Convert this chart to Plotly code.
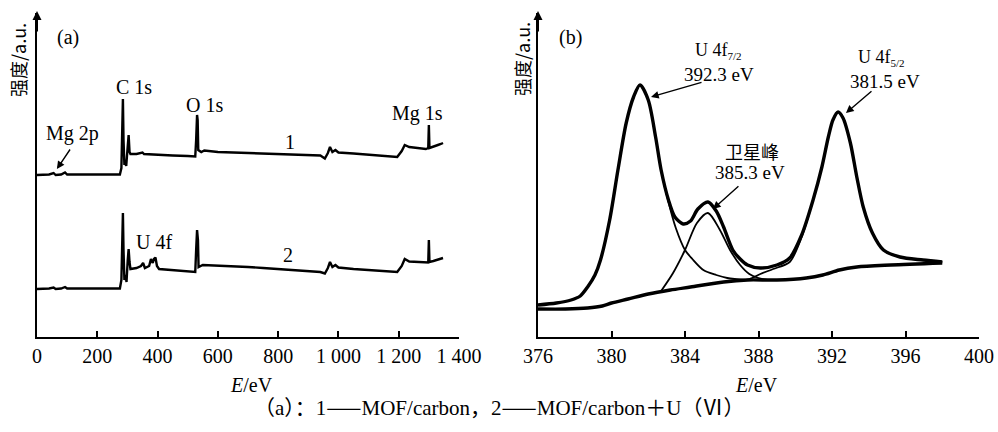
import plotly.graph_objects as go

# ---------------- (a) XPS survey spectra ----------------
survey_e = [0, 20, 40, 55, 62, 80, 93, 100, 150, 200, 250, 275, 280, 283, 285, 287, 290, 293, 296, 300,
            304, 307, 310, 330, 350, 355, 400, 450, 500, 525, 528, 531, 533, 535, 545, 555, 600, 650,
            700, 750, 800, 850, 900, 940, 955, 965, 972, 980, 990, 1000, 1050, 1100, 1150, 1195,
            1210, 1220, 1235, 1260, 1290, 1298, 1300, 1302, 1310, 1320, 1330, 1340, 1347]
survey_1 = [162, 162, 162.5, 164, 162, 162.5, 164.5, 162.5, 162.5, 162.5, 162.5, 162.5, 169, 217, 238, 197,
            172, 177, 171, 187, 202, 185, 183, 183, 184.5, 183, 182, 181.5, 181, 180.5, 197, 222, 217,
            187, 185, 186.5, 185, 184.5, 184, 183.5, 183.5, 182.5, 182, 181.5, 178.5, 184, 190, 185,
            187, 184.5, 183.5, 182.5, 181.5, 180, 186, 192, 190, 189, 188, 189, 212, 189, 190,
            191.5, 192, 193, 194]

survey2_e = [0, 20, 40, 55, 62, 80, 93, 100, 150, 200, 250, 275, 280, 283, 285, 287, 290, 294, 297, 301,
             304, 307, 310, 330, 345, 352, 358, 372, 378, 384, 388, 393, 398, 405, 450, 500, 525, 528,
             531, 534, 536, 550, 600, 650, 700, 750, 800, 850, 900, 940, 955, 965, 972, 980, 990, 1000,
             1050, 1100, 1150, 1195, 1210, 1220, 1235, 1260, 1290, 1298, 1300, 1302, 1315, 1330, 1347]
survey_2 = [48, 48, 48.5, 49.5, 48, 48.5, 50, 48.5, 48.5, 48.5, 48.5, 48.5, 57, 97, 124, 87, 57, 62, 55,
            77, 88, 75, 68, 69, 71, 74, 69, 71, 78, 74, 78, 79.5, 71, 68, 67, 65.5, 65, 87, 107, 97,
            70, 72, 71.5, 70.5, 70, 69, 68, 67, 66, 65, 63.5, 69, 75, 70, 72, 69.5, 68, 67, 66, 65,
            71, 78, 75.5, 75, 74, 74.5, 97, 75, 76, 77.5, 79]

# ---------------- (b) U 4f high-resolution fit ----------------
env_e = [376.0, 377.0, 377.8, 378.3, 378.7, 379.1, 379.4, 379.9, 380.35, 380.8, 381.2, 381.55, 382.0,
         382.4, 382.7, 383.1, 383.45, 383.9, 384.3, 384.7, 385.25, 385.7, 386.1, 386.6, 387.0, 387.4,
         388.1, 389.0, 389.7, 390.35, 390.97, 391.45, 391.8, 392.05, 392.33, 392.6, 393.0, 393.35,
         393.7, 394.2, 394.8, 395.7, 396.95, 398.0]
env_i = [32, 34, 37, 41, 50, 62, 77, 117, 167, 214, 240, 252, 237, 200, 167, 137, 120, 113, 116, 128,
         135, 126, 110, 87, 78, 72, 69, 72, 79, 102, 137, 170, 200, 217, 225, 219, 194, 160, 130, 104,
         87, 80, 77, 75]

bg_e = [376.0, 377.5, 378.7, 379.5, 380.0, 380.9, 382.0, 383.2, 384.3, 386.1, 387.4, 389.0, 390.6,
        391.5, 392.4, 393.35, 395.2, 398.0]
bg_i = [28, 28, 29, 31, 34, 38, 43, 47, 50, 55, 57, 57, 59, 62, 67, 70, 72, 74]

p1_e = [376.0, 377.0, 377.8, 378.3, 378.7, 379.1, 379.4, 379.9, 380.35, 380.8, 381.2, 381.55, 382.0,
        382.4, 382.7, 383.1, 383.5, 384.0, 384.4, 385.0, 385.7, 386.3, 387.4]
p1_i = [32, 34, 37, 41, 50, 62, 77, 117, 167, 214, 240, 252, 237, 200, 167, 135, 109, 87, 78, 67, 62,
        59, 57]

sat_e = [382.7, 383.35, 384.0, 384.65, 385.25, 385.9, 386.45, 387.0, 387.5, 388.0, 388.5]
sat_i = [46, 64, 87, 114, 124, 107, 87, 72, 63, 59, 57]

p3_e = [386.8, 387.5, 388.1, 388.8, 389.7, 390.35, 390.97, 391.45, 391.8, 392.05, 392.33, 392.6,
        393.0, 393.35, 393.7, 394.2, 394.8, 395.7, 396.95, 398.0]
p3_i = [56, 58, 63, 68, 75, 100, 137, 170, 200, 217, 225, 219, 194, 160, 130, 104, 87, 80, 77, 75]

W, H = 998, 432
SERIF = "Liberation Serif, Times New Roman, Noto Sans CJK SC, serif"
CJK = "Noto Sans CJK SC, Liberation Serif, serif"


def px(xp):
    return xp / W


def py(yp):
    return 1 - yp / H


fig = go.Figure()
line_a = dict(color="black", width=2.4)
fig.add_trace(go.Scatter(x=survey_e, y=survey_1, mode="lines", line=line_a, xaxis="x", yaxis="y"))
fig.add_trace(go.Scatter(x=survey2_e, y=survey_2, mode="lines", line=line_a, xaxis="x", yaxis="y"))

thick = dict(color="black", width=3.4, shape="spline", smoothing=0.8)
thin = dict(color="black", width=1.8, shape="spline", smoothing=0.8)
fig.add_trace(go.Scatter(x=p1_e, y=p1_i, mode="lines", line=thin, xaxis="x2", yaxis="y2"))
fig.add_trace(go.Scatter(x=sat_e, y=sat_i, mode="lines", line=thin, xaxis="x2", yaxis="y2"))
fig.add_trace(go.Scatter(x=p3_e, y=p3_i, mode="lines", line=thin, xaxis="x2", yaxis="y2"))
fig.add_trace(go.Scatter(x=bg_e, y=bg_i, mode="lines", line=thick, xaxis="x2", yaxis="y2"))
fig.add_trace(go.Scatter(x=env_e, y=env_i, mode="lines", line=thick, xaxis="x2", yaxis="y2"))

a_ticks = [0, 200, 400, 600, 800, 1000, 1200, 1400]
a_ticktext = ["0", "200", "400", "600", "800", "1 000", "1 200", "1 400"]
b_ticks = [376, 380, 384, 388, 392, 396, 400]

axis_common = dict(showline=True, linecolor="black", linewidth=2, showgrid=False, zeroline=False,
                   ticks="inside", ticklen=6, tickwidth=1.6, tickcolor="black", automargin=False,
                   tickfont=dict(family=SERIF, size=20, color="black"))
yaxis_common = dict(showline=True, linecolor="black", linewidth=2, showgrid=False, zeroline=False,
                    showticklabels=False, ticks="", automargin=False)

y_dom = [py(337), py(13)]
fig.update_layout(
    width=W, height=H, margin=dict(l=0, r=0, t=0, b=0, autoexpand=False),
    paper_bgcolor="white", plot_bgcolor="white", showlegend=False,
    xaxis=dict(domain=[px(37), px(459)], range=[0, 1400], tickvals=a_ticks, ticktext=a_ticktext,
               anchor="y", **axis_common),
    yaxis=dict(domain=y_dom, range=[0, 324], anchor="x", **yaxis_common),
    xaxis2=dict(domain=[px(538), px(979)], range=[376, 400], tickvals=b_ticks, anchor="y2",
                **axis_common),
    yaxis2=dict(domain=y_dom, range=[0, 324], anchor="x2", **yaxis_common),
)

ann = []


def text(xp, yp, s, size=20, family=SERIF, yanchor="middle", **kw):
    ann.append(dict(x=px(xp), y=py(yp), xref="paper", yref="paper", text=s, showarrow=False,
                    font=dict(family=family, size=size, color="black"),
                    xanchor="center", yanchor=yanchor, borderpad=0, **kw))


def arrow(xr, yr, hx, hy, tx, ty, width=1.4):
    ann.append(dict(x=hx, y=hy, ax=tx, ay=ty, xref=xr, yref=yr, axref=xr, ayref=yr, text="",
                    showarrow=True, arrowhead=2, arrowsize=1.1, arrowwidth=width,
                    arrowcolor="black", standoff=0))


# axis arrows on the intensity axes
for xa in (37, 538):
    ann.append(dict(x=px(xa), y=py(11), xref="paper", yref="paper", ax=0, ay=22, text="",
                    showarrow=True, arrowhead=2, arrowsize=0.9, arrowwidth=2, arrowcolor="black",
                    standoff=0))

SUB = "<sub><span style='font-size:11px'>{}</span></sub>"

# panel (a) labels
text(68, 37, "(a)")
text(72, 133, "Mg 2p")
text(134, 87, "C 1s")
text(204, 105, "O 1s")
text(417, 113, "Mg 1s")
text(290, 142, "1")
text(288, 255, "2")
text(154, 242, "U 4f")
arrow("x", "y", 66, 168, 113, 189)

# panel (b) labels: two stacked lines per peak, touching at a shared edge
text(718, 63, "U 4f" + SUB.format("7/2"), size=18, yanchor="bottom")
text(719, 63, "392.3 eV", size=19, yanchor="top")
text(881, 70, "U 4f" + SUB.format("5/2"), size=18, yanchor="bottom")
text(885, 70, "381.5 eV", size=19, yanchor="top")
text(570, 37, "(b)")
text(752, 151, "卫星峰", family=CJK, size=18)
text(750, 172, "385.3 eV", size=19)
arrow("x2", "y2", 382.15, 240, 384.98, 255)
arrow("x2", "y2", 392.76, 224, 394.23, 247)
arrow("x2", "y2", 385.52, 128, 386.99, 152)

# axis titles
text(18, 60, "强度/a.u.", family=CJK, size=18, textangle=-90)
text(522, 59, "强度/a.u.", family=CJK, size=18, textangle=-90)
text(252, 385, "<i>E</i>/eV")
text(756, 385, "<i>E</i>/eV")

# caption
DASH = "<span style='font-family:Noto Sans CJK SC'>——</span>"
text(499, 406, "（a）：1" + DASH + "MOF/carbon，2" + DASH + "MOF/carbon＋U（Ⅵ）", size=21)

fig.update_layout(annotations=ann)
fig.write_html("out.html")
